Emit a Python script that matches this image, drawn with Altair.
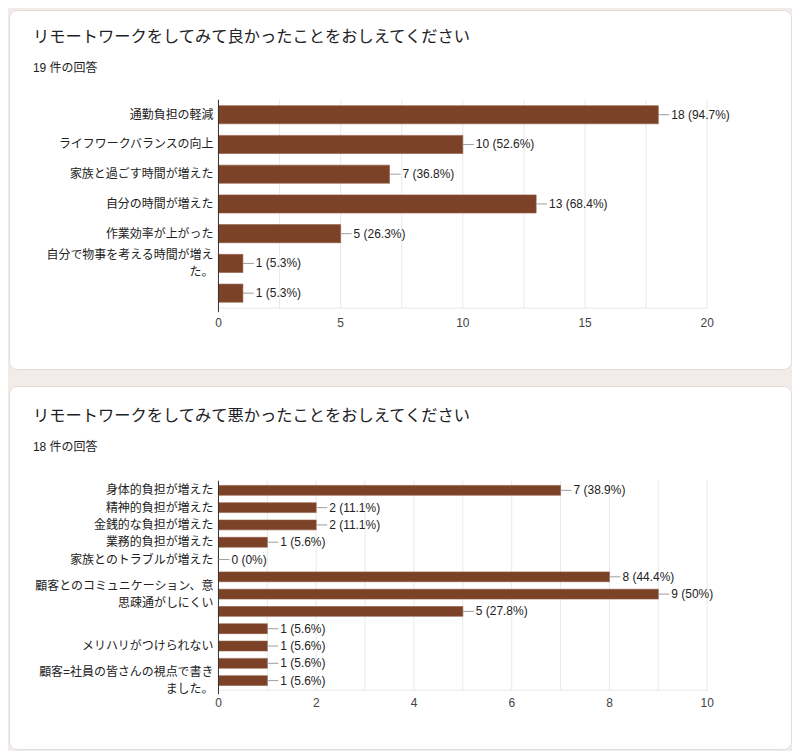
import altair as alt
import pandas as pd

# ---------------- data ----------------
good_title = "リモートワークをしてみて良かったことをおしえてください"
good_total = 19
good_labels = [
    "通勤負担の軽減",
    "ライフワークバランスの向上",
    "家族と過ごす時間が増えた",
    "自分の時間が増えた",
    "作業効率が上がった",
    "自分で物事を考える時間が増え\nた。",
    "",
]
good_counts = [18, 10, 7, 13, 5, 1, 1]
good_ticks = [0, 5, 10, 15, 20]
good_grid = [0, 2.5, 5, 7.5, 10, 12.5, 15, 17.5, 20]

bad_title = "リモートワークをしてみて悪かったことをおしえてください"
bad_total = 18
bad_labels = [
    "身体的負担が増えた",
    "精神的負担が増えた",
    "金銭的な負担が増えた",
    "業務的負担が増えた",
    "家族とのトラブルが増えた",
    "",
    "顧客とのコミュニケーション、意\n思疎通がしにくい",
    "",
    "",
    "メリハリがつけられない",
    "",
    "顧客=社員の皆さんの視点で書き\nました。",
]
bad_counts = [7, 2, 2, 1, 0, 8, 9, 5, 1, 1, 1, 1]
bad_ticks = [0, 2, 4, 6, 8, 10]
bad_grid = [0, 1, 2, 3, 4, 5, 6, 7, 8, 9, 10]

# ---------------- style ----------------
BAR = "#7b4227"
TXT = "#222222"
GRID = "#e9e9e9"
LATIN = "Liberation Sans, Noto Sans CJK JP"
CJK = "Noto Sans CJK JP"
CARD_W = 784
LH = 17


def pct(c, n):
    v = round(c / n * 100, 1)
    return f"{c} ({v:g}%)"


def card(title, total, labels, counts, ticks, grid, xmax, height,
         y_top, y_bot, pad_inner, pad_outer, title_y, sub_y, tick_y):
    keys = [f"{i:02d}" for i in range(len(labels))]
    df = pd.DataFrame({
        "key": keys,
        "label": labels,
        "count": counts,
        "text": [pct(c, total) for c in counts],
        "multi": ["\n" in s for s in labels],
    })
    xs = alt.Scale(domain=[0, xmax], range=[210, 700], nice=False, zero=False)
    ys = alt.Scale(domain=keys, range=[y_top, y_bot],
                   paddingInner=pad_inner, paddingOuter=pad_outer)
    X = lambda f: alt.X(f, scale=xs, axis=None)
    Y = alt.Y("key:N", scale=ys, axis=None, sort=None)

    grid_df = pd.DataFrame({"g": grid})
    gridlines = alt.Chart(grid_df).mark_rule(color=GRID, strokeWidth=1).encode(
        x=X("g:Q"), y=alt.value(y_top), y2=alt.value(y_bot))
    frame = alt.Chart(pd.DataFrame({"a": [0], "b": [xmax]})).mark_rule(
        color=GRID, strokeWidth=1).encode(
        x=X("a:Q"), x2="b:Q", y=alt.value(y_bot))
    bars = alt.Chart(df).mark_bar(color=BAR, stroke="#8e5a41", strokeWidth=0.6).encode(
        x=X("count:Q"), y=Y)
    base0 = alt.Chart(pd.DataFrame({"z": [0]})).mark_rule(
        color="#333333", strokeWidth=1).encode(
        x=X("z:Q"), y=alt.value(y_top), y2=alt.value(y_bot + 4))
    leaders = alt.Chart(df).mark_rule(color="#9e9e9e", strokeWidth=1, x2Offset=11).encode(
        x=X("count:Q"), x2="count:Q", y=Y)
    values = alt.Chart(df).mark_text(
        align="left", baseline="middle", dx=13, font=LATIN, fontSize=12, color=TXT).encode(
        x=X("count:Q"), y=Y, text="text:N")
    ylabels1 = alt.Chart(df).transform_filter("!datum.multi").mark_text(
        align="right", baseline="middle", font=LATIN, fontSize=12, color=TXT).encode(
        x=alt.value(205), y=Y, text="label:N")
    ylabels2 = alt.Chart(df).transform_filter("datum.multi").mark_text(
        align="right", baseline="middle", font=LATIN, fontSize=12, color=TXT,
        lineBreak="\n", lineHeight=LH, dy=-LH / 2).encode(
        x=alt.value(205), y=Y, text="label:N")
    tick_df = pd.DataFrame({"t": ticks, "s": [str(t) for t in ticks]})
    ticklabels = alt.Chart(tick_df).mark_text(
        align="center", baseline="middle", font=LATIN, fontSize=12, color="#444444").encode(
        x=X("t:Q"), y=alt.value(tick_y), text="s:N")
    ttl = alt.Chart(pd.DataFrame({"t": [title]})).mark_text(
        align="left", baseline="middle", font=CJK, fontSize=16.3, color="#202124").encode(
        x=alt.value(24), y=alt.value(title_y), text="t:N")
    sub = alt.Chart(pd.DataFrame({"t": [f"{total} 件の回答"]})).mark_text(
        align="left", baseline="middle", font=LATIN, fontSize=12, color="#202124").encode(
        x=alt.value(24), y=alt.value(sub_y), text="t:N")

    return alt.layer(gridlines, frame, bars, base0, leaders, values, ylabels1, ylabels2,
                     ticklabels, ttl, sub).properties(width=CARD_W, height=height)


c1 = card(good_title, good_total, good_labels, good_counts, good_ticks, good_grid,
          20, 360, 90, 299, 0.39, 0.2, 27, 58, 314)
c2 = card(bad_title, bad_total, bad_labels, bad_counts, bad_ticks, bad_grid,
          10, 364, 95, 305, 0.43, 0.27, 30, 61, 318)

chart = alt.vconcat(c1, c2, spacing=15).resolve_scale(
    x="independent", y="independent").properties(
    padding=0, background="#f1ece9").configure_view(
    fill="white", stroke="#e2dcd8", strokeWidth=1, cornerRadius=8)

chart.save("out.html", embed_options={"renderer": "svg", "actions": False})
